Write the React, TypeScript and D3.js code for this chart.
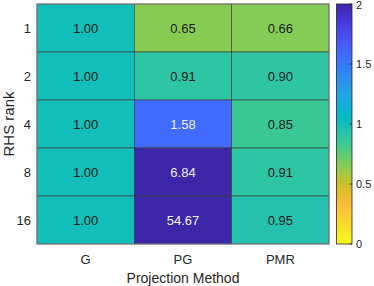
import * as d3 from 'd3';
import React, { useRef, useEffect } from 'react';

const ranks = ['1', '2', '4', '8', '16'];
const methods = ['G', 'PG', 'PMR'];
const valuesG = [1.0, 1.0, 1.0, 1.0, 1.0];
const valuesPG = [0.65, 0.91, 1.58, 6.84, 54.67];
const valuesPMR = [0.66, 0.9, 0.85, 0.91, 0.95];
const colorTicks = [0, 0.5, 1, 1.5, 2];

// parula (64 entries)
const parula = [
  [0.2422, 0.1504, 0.6603], [0.2504, 0.165, 0.7076], [0.2578, 0.1818, 0.7511], [0.2647, 0.1978, 0.7952],
  [0.2706, 0.2147, 0.8364], [0.2751, 0.2342, 0.871], [0.2783, 0.2559, 0.8991], [0.2803, 0.2782, 0.9221],
  [0.2813, 0.3006, 0.9414], [0.281, 0.3228, 0.9579], [0.2795, 0.3447, 0.9717], [0.276, 0.3667, 0.9829],
  [0.2699, 0.3892, 0.9906], [0.2602, 0.4123, 0.9952], [0.244, 0.4358, 0.9988], [0.2206, 0.4603, 0.9973],
  [0.1963, 0.4847, 0.9892], [0.1834, 0.5074, 0.9798], [0.1786, 0.5289, 0.9682], [0.1764, 0.5499, 0.952],
  [0.1687, 0.5703, 0.9359], [0.154, 0.5902, 0.9218], [0.146, 0.6091, 0.9079], [0.138, 0.6276, 0.8973],
  [0.1248, 0.6459, 0.8883], [0.1113, 0.6635, 0.8763], [0.0952, 0.6798, 0.8598], [0.0689, 0.6948, 0.8394],
  [0.0297, 0.7082, 0.8163], [0.0036, 0.7203, 0.7917], [0.0067, 0.7312, 0.766], [0.0433, 0.7411, 0.7394],
  [0.0964, 0.75, 0.712], [0.1408, 0.7584, 0.6842], [0.1717, 0.767, 0.6554], [0.1938, 0.7758, 0.6251],
  [0.2161, 0.7843, 0.5923], [0.247, 0.7918, 0.5567], [0.2906, 0.7973, 0.5188], [0.3406, 0.8008, 0.4789],
  [0.3909, 0.8029, 0.4354], [0.4456, 0.8024, 0.3909], [0.5044, 0.7993, 0.348], [0.5616, 0.7942, 0.3045],
  [0.6174, 0.7876, 0.2612], [0.672, 0.7793, 0.2227], [0.7242, 0.7698, 0.191], [0.7738, 0.7598, 0.1646],
  [0.8203, 0.7498, 0.1535], [0.8634, 0.7406, 0.1596], [0.9035, 0.733, 0.1774], [0.9393, 0.7288, 0.21],
  [0.9728, 0.7298, 0.2394], [0.9956, 0.7434, 0.2371], [0.997, 0.7659, 0.2199], [0.9952, 0.7893, 0.2028],
  [0.9892, 0.8136, 0.1885], [0.9786, 0.8386, 0.1766], [0.9676, 0.8639, 0.1643], [0.961, 0.889, 0.1537],
  [0.9597, 0.9135, 0.1423], [0.9628, 0.9373, 0.1265], [0.9691, 0.9606, 0.1064], [0.9769, 0.9839, 0.0805],
];
const parulaColors = parula.map((c) => d3.rgb(c[0] * 255, c[1] * 255, c[2] * 255).toString());
const interpParula = d3.interpolateRgbBasis(parulaColors);

function App() {
  const svgRef = useRef(null);

  useEffect(() => {
    const width = 374,
      height = 286;
    const margin = { top: 4, left: 37, right: 45, bottom: 42 };
    const plotW = 329 - margin.left;
    const plotH = 244 - margin.top;
    const font = "'Liberation Sans', Arial, Helvetica, sans-serif";

    const svg = d3.select(svgRef.current).attr('width', width).attr('height', height);
    svg.selectAll('*').remove();

    const cells = [];
    ranks.forEach((r, i) => {
      cells.push({ rank: r, method: 'G', value: valuesG[i] });
      cells.push({ rank: r, method: 'PG', value: valuesPG[i] });
      cells.push({ rank: r, method: 'PMR', value: valuesPMR[i] });
    });

    const x = d3.scaleBand().domain(methods).range([0, plotW]);
    const y = d3.scaleBand().domain(ranks).range([0, plotH]);
    // 0 -> yellow, 2 -> dark blue (flipped parula)
    const color = d3
      .scaleSequential((t) => interpParula(1 - t))
      .domain([0, 2])
      .clamp(true);

    const g = svg.append('g').attr('transform', 'translate(' + margin.left + ',' + margin.top + ')');

    g.selectAll('rect.cell')
      .data(cells)
      .enter()
      .append('rect')
      .attr('class', 'cell')
      .attr('x', (d) => x(d.method))
      .attr('y', (d) => y(d.rank))
      .attr('width', x.bandwidth())
      .attr('height', y.bandwidth())
      .attr('fill', (d) => color(d.value))
      .attr('stroke', '#3a3a3a')
      .attr('stroke-width', 0.6);

    g.append('rect')
      .attr('width', plotW)
      .attr('height', plotH)
      .attr('fill', 'none')
      .attr('stroke', '#7f7f7f')
      .attr('stroke-width', 1);

    g.selectAll('text.val')
      .data(cells)
      .enter()
      .append('text')
      .attr('class', 'val')
      .attr('x', (d) => x(d.method) + x.bandwidth() / 2)
      .attr('y', (d) => y(d.rank) + y.bandwidth() / 2)
      .attr('dy', '0.35em')
      .attr('text-anchor', 'middle')
      .attr('font-family', font)
      .attr('font-size', 13)
      .attr('fill', (d) => (d.value > 1.3 ? '#f0f0f0' : '#1a1a1a'))
      .text((d) => d.value.toFixed(2));

    // y tick labels
    g.selectAll('text.ylab')
      .data(ranks)
      .enter()
      .append('text')
      .attr('x', -6)
      .attr('y', (d) => y(d) + y.bandwidth() / 2)
      .attr('dy', '0.35em')
      .attr('text-anchor', 'end')
      .attr('font-family', font)
      .attr('font-size', 13)
      .attr('fill', '#262626')
      .text((d) => d);

    // x tick labels
    g.selectAll('text.xlab')
      .data(methods)
      .enter()
      .append('text')
      .attr('x', (d) => x(d) + x.bandwidth() / 2)
      .attr('y', plotH + 15)
      .attr('dy', '0.35em')
      .attr('text-anchor', 'middle')
      .attr('font-family', font)
      .attr('font-size', 13)
      .attr('fill', '#262626')
      .text((d) => d);

    g.append('text')
      .attr('x', plotW / 2)
      .attr('y', plotH + 34)
      .attr('dy', '0.35em')
      .attr('text-anchor', 'middle')
      .attr('font-family', font)
      .attr('font-size', 14)
      .attr('fill', '#262626')
      .text('Projection Method');

    g.append('text')
      .attr('transform', 'translate(' + (8.5 - margin.left) + ',' + plotH / 2 + ') rotate(-90)')
      .attr('dy', '0.35em')
      .attr('text-anchor', 'middle')
      .attr('font-family', font)
      .attr('font-size', 15)
      .attr('fill', '#262626')
      .text('RHS rank');

    // colorbar
    const cbX = 336.5,
      cbW = 15.5;
    const cy = d3.scaleLinear().domain([0, 2]).range([244, 4]);
    const defs = svg.append('defs');
    const grad = defs
      .append('linearGradient')
      .attr('id', 'cbgrad')
      .attr('x1', 0)
      .attr('y1', 1)
      .attr('x2', 0)
      .attr('y2', 0);
    d3.range(0, 1.0001, 1 / 32).forEach((t) => {
      grad
        .append('stop')
        .attr('offset', t)
        .attr('stop-color', color(t * 2));
    });
    svg
      .append('rect')
      .attr('x', cbX)
      .attr('y', cy(2))
      .attr('width', cbW)
      .attr('height', cy(0) - cy(2))
      .attr('fill', 'url(#cbgrad)')
      .attr('stroke', '#262626')
      .attr('stroke-width', 0.8);

    svg
      .selectAll('line.cbtick')
      .data(colorTicks)
      .enter()
      .append('line')
      .attr('x1', cbX + cbW - 2.5)
      .attr('x2', cbX + cbW)
      .attr('y1', (d) => cy(d))
      .attr('y2', (d) => cy(d))
      .attr('stroke', '#262626')
      .attr('stroke-width', 0.8);

    svg
      .selectAll('text.cblab')
      .data(colorTicks)
      .enter()
      .append('text')
      .attr('x', cbX + cbW + 4)
      .attr('y', (d) => Math.max(cy(d), 5))
      .attr('dy', '0.35em')
      .attr('font-family', font)
      .attr('font-size', 11)
      .attr('fill', '#262626')
      .text((d) => d3.format('~g')(d));
  }, []);

  return (
    <div style={{ position: 'absolute', left: 0, top: 0 }}>
      <svg ref={svgRef} style={{ display: 'block' }}></svg>
    </div>
  );
}

export default App;
